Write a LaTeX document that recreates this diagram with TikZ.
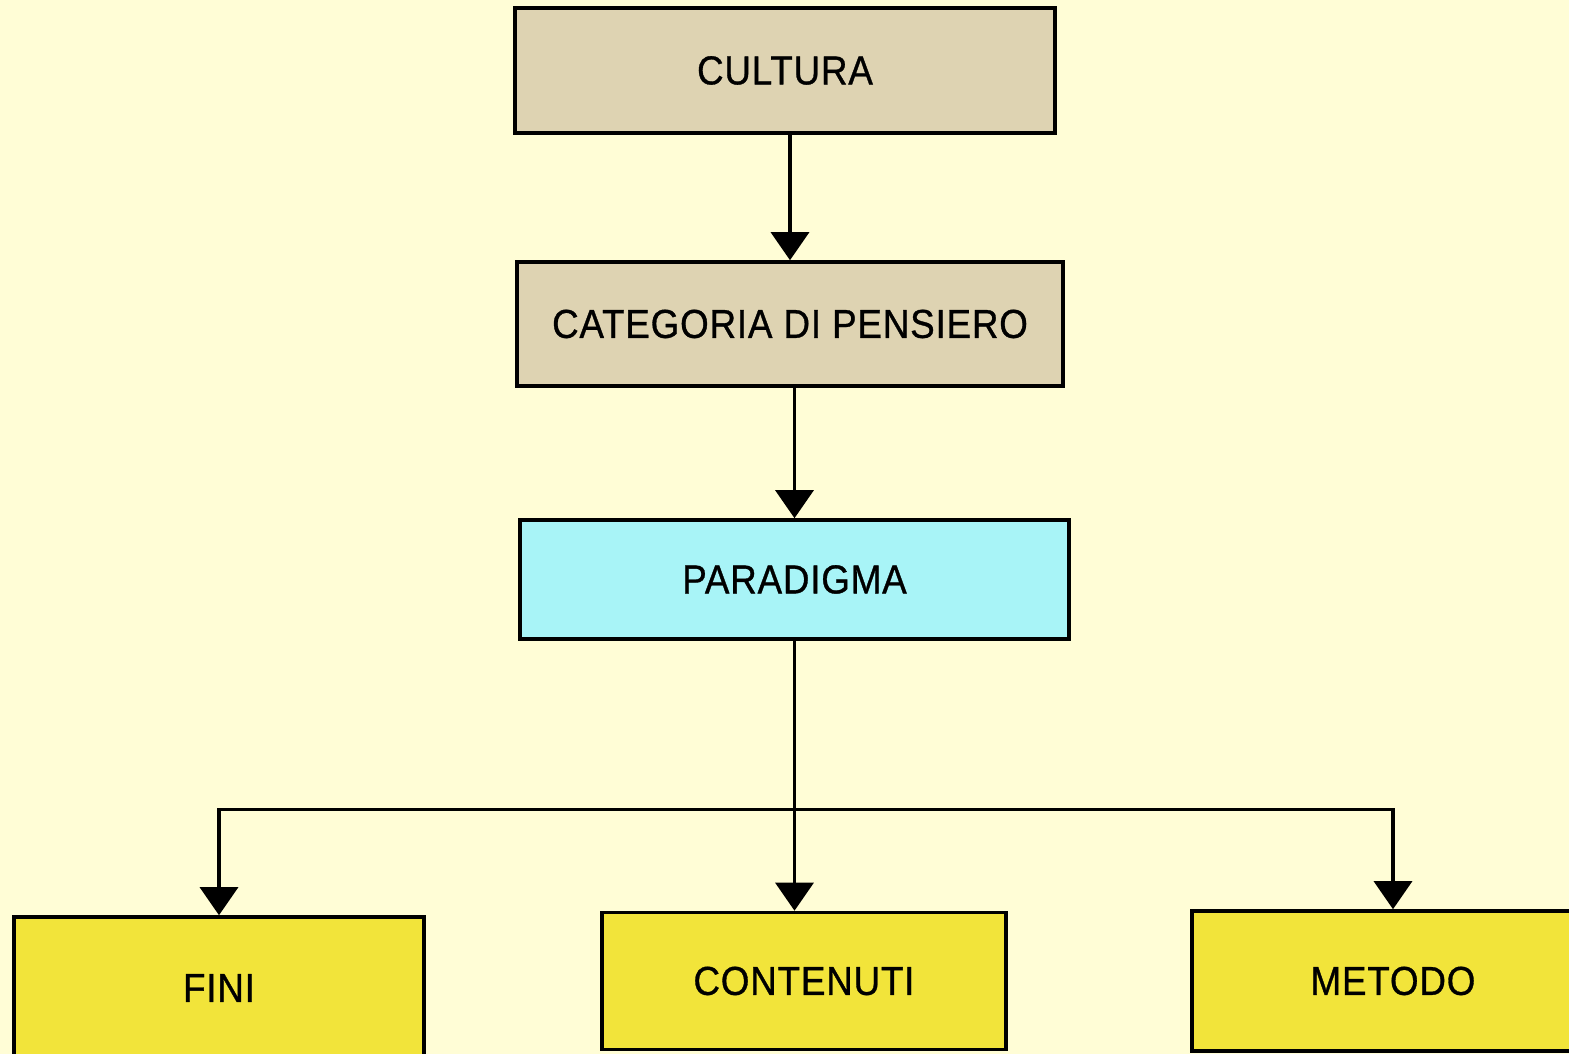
\documentclass[tikz,border=0pt]{standalone}
\usepackage{fontspec}
\setmainfont{Liberation Sans}[FakeStretch=0.91, LetterSpace=2, FakeBold=0.8]
\usepackage{tikz}
\usetikzlibrary{arrows.meta, positioning, calc}

\definecolor{paper}{HTML}{FFFDD6}
\definecolor{tanbox}{HTML}{DED3B2}
\definecolor{cyanbox}{HTML}{A8F4F7}
\definecolor{yellowbox}{HTML}{F2E43A}

\begin{document}
\begin{tikzpicture}[
    box/.style={rectangle, draw, line width=1pt, inner sep=0pt, align=center, font=\fontsize{11.5}{13}\selectfont},
    arrow/.style={-{Triangle[width=0.38cm, length=0.28cm]}, line width=0.9pt}
]
% page
\useasboundingbox (0,0) rectangle (15.69,10.54);
\fill[paper] (0,0) rectangle (15.69,10.54);
\clip (0,0) rectangle (15.69,10.54);

% upper chain
\node[box, fill=tanbox, minimum width=5.40cm, minimum height=1.25cm] (cultura) at (7.85,9.835) {CULTURA};
\node[box, fill=tanbox, minimum width=5.46cm, minimum height=1.24cm] (categoria) at (7.90,7.30) {CATEGORIA DI PENSIERO};
\node[box, fill=cyanbox, minimum width=5.49cm, minimum height=1.19cm] (paradigma) at (7.945,4.745) {PARADIGMA};

% lower row (cut by the page edge)
\node[box, fill=yellowbox, minimum width=4.10cm, minimum height=1.42cm] (fini) at (2.19,0.66) {FINI};
\node[box, fill=yellowbox, minimum width=4.04cm, minimum height=1.37cm] (contenuti) at (8.04,0.73) {CONTENUTI};
\node[box, fill=yellowbox, minimum width=4.02cm, minimum height=1.40cm] (metodo) at (13.93,0.73) {METODO};

\draw[arrow] (categoria.north |- cultura.south) -- (categoria.north);
\draw[arrow] (paradigma.north |- categoria.south) -- (paradigma.north);
\draw[arrow] (paradigma.south) -- (paradigma.south |- contenuti.north);

% branch
\coordinate (fork) at ($(paradigma.south)+(0,-1.69)$);
\draw[arrow] (fork) -| (fini);
\draw[arrow] (fork) -| (metodo);
\end{tikzpicture}
\end{document}
